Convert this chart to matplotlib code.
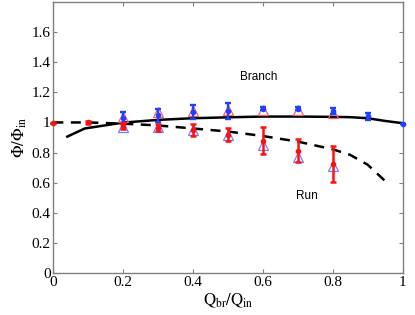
import numpy as np
import matplotlib
matplotlib.use('Agg')
import matplotlib.pyplot as plt
from matplotlib.ticker import FuncFormatter

plt.rcParams['font.family'] = ['Liberation Serif', 'DejaVu Serif']
plt.rcParams['mathtext.fontset'] = 'stix'

# model curves
branch_x = [0.04, 0.09, 0.2, 0.3, 0.4, 0.5, 0.6, 0.7, 0.8, 0.85, 0.9, 0.95, 1.0]
branch_y = [0.906, 0.96, 0.999, 1.017, 1.028, 1.034, 1.039, 1.039, 1.037,
            1.035, 1.028, 1.01, 0.995]
run_x = [0.0, 0.1, 0.2, 0.3, 0.4, 0.5, 0.6, 0.7, 0.8, 0.85, 0.9, 0.95]
run_y = [1.0, 1.0, 0.992, 0.98, 0.96, 0.94, 0.91, 0.873, 0.822, 0.785,
         0.72, 0.612]

# measured run branch (red, with error bars)
run_meas_x = [0.0, 0.1, 0.2, 0.3, 0.4, 0.5, 0.6, 0.7, 0.8]
run_meas_y = [0.995, 1.0, 0.977, 0.966, 0.95, 0.92, 0.88, 0.813, 0.725]
run_meas_err = [0.0, 0.012, 0.02, 0.022, 0.04, 0.045, 0.09, 0.077, 0.12]

# measured side branch (blue, with error bars)
br_meas_x = [0.2, 0.3, 0.4, 0.5, 0.6, 0.7, 0.8, 0.9, 1.0]
br_meas_y = [1.03, 1.048, 1.07, 1.076, 1.09, 1.09, 1.076, 1.04, 0.99]
br_meas_err = [0.04, 0.044, 0.046, 0.05, 0.01, 0.01, 0.02, 0.025, 0.0]

# second data set (open triangles)
tri_x = [0.2, 0.3, 0.4, 0.5, 0.6, 0.7, 0.8]
tri_branch_y = [1.035, 1.07, 1.076, 1.08, 1.08, 1.08, 1.06]
tri_run_y = [0.97, 0.97, 0.95, 0.92, 0.85, 0.774, 0.714]

fig = plt.figure(figsize=(4.15, 3.15), dpi=100)
ax = fig.add_axes([0.1285, 0.1324, 0.8415, 0.862])

ax.plot(branch_x, branch_y, '-', color='black', lw=1.8, zorder=2)
ax.plot(run_x, run_y, '--', color='black', lw=1.8, dashes=(4, 3), zorder=2)

ax.plot(tri_x, tri_branch_y, '^', mfc='none', mec='#ff6060', ms=7,
        mew=0.9, zorder=3)
ax.plot(tri_x, tri_run_y, '^', mfc='none', mec='#7080ff', ms=7,
        mew=0.9, zorder=3)

ax.errorbar(br_meas_x, br_meas_y, yerr=br_meas_err, fmt='o', color='#2040ff',
            ms=3, lw=1.7, capsize=2.2, capthick=1.7, zorder=4, clip_on=False)
ax.errorbar(run_meas_x, run_meas_y, yerr=run_meas_err, fmt='o',
            color='#ff1010', ms=3, lw=1.8, capsize=2.2, capthick=1.8,
            zorder=4, clip_on=False)

ax.text(0.589, 1.30, 'Branch', family='Liberation Sans', fontsize=8.5,
        ha='center', va='center')
ax.text(0.726, 0.51, 'Run', family='Liberation Sans', fontsize=8.5,
        ha='center', va='center')

ax.set_xlim(0, 1)
ax.set_ylim(0, 1.8)
ax.set_xticks(np.arange(0, 1.01, 0.2))
ax.set_yticks(np.arange(0, 1.61, 0.2))
fmt = FuncFormatter(lambda v, p: '%g' % round(v, 2))
ax.xaxis.set_major_formatter(fmt)
ax.yaxis.set_major_formatter(fmt)
ax.tick_params(direction='in', length=3, width=0.8, color='#808080',
               labelsize=11, top=True, right=True, pad=2)
for s in ax.spines.values():
    s.set_color('#808080')
    s.set_linewidth(1.0)

ax.set_xlabel(r'$\mathrm{Q_{br}/Q_{in}}$', fontsize=12, labelpad=2)
ax.set_ylabel(r'$\mathrm{\Phi/\Phi_{in}}$', fontsize=12, labelpad=2)

fig.savefig('out.png', dpi=100)
